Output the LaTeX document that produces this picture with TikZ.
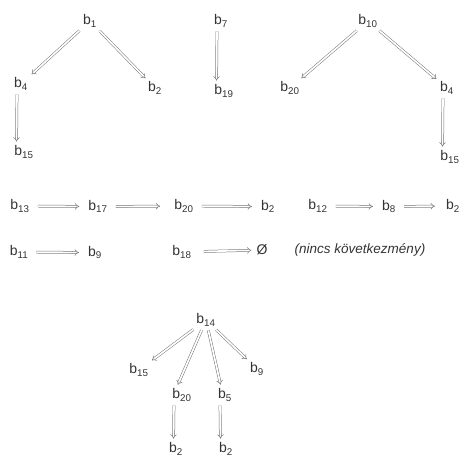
\documentclass[tikz,border=0pt]{standalone}
\usepackage{fontspec}
\setmainfont{Liberation Sans}
\usetikzlibrary{arrows.meta}
\newcommand\bsub[1]{b\textsubscript{#1}}
\tikzset{
  lbl/.style={inner sep=2pt, text=black!80, font=\fontsize{14}{16}\selectfont},
  imp/.style={draw=black!55, double=white, double distance=1.7pt, line width=0.5pt,
    -{Implies}, shorten >=2pt, shorten <=2pt},
  himp/.style={imp, shorten >=7pt, shorten <=6pt}
}
\begin{document}
\begin{tikzpicture}[x=1pt,y=-1pt]
\useasboundingbox (0,0) rectangle (461,458);
% tree 1
\node[lbl] (b1) at (90,21) {\bsub{1}};
\node[lbl] (b4) at (21,84) {\bsub{4}};
\node[lbl] (b2) at (155,88) {\bsub{2}};
\node[lbl] (b15) at (24,152) {\bsub{15}};
\draw[imp] (b1) -- (b4);
\draw[imp] (b1) -- (b2);
\draw[imp] ([xshift=-4pt]b4.south) -- ([xshift=-7.5pt]b15.north);
% tree 2
\node[lbl] (b7) at (221,21) {\bsub{7}};
\node[lbl] (b19) at (224,91) {\bsub{19}};
\draw[imp] ([xshift=-4pt]b7.south) -- ([xshift=-7.5pt]b19.north);
% tree 3
\node[lbl] (b10) at (368,21) {\bsub{10}};
\node[lbl] (b20r) at (290,88) {\bsub{20}};
\node[lbl] (b4r) at (447,88) {\bsub{4}};
\node[lbl] (b15r) at (450,157) {\bsub{15}};
\draw[imp] (b10) -- (b20r);
\draw[imp] (b10) -- (b4r);
\draw[imp] ([xshift=-4pt]b4r.south) -- ([xshift=-7.5pt]b15r.north);
% row 3
\node[lbl] (b13) at (20,206) {\bsub{13}};
\node[lbl] (b17) at (98,206.6) {\bsub{17}};
\node[lbl] (b20) at (184,206) {\bsub{20}};
\node[lbl] (b2a) at (268,206.6) {\bsub{2}};
\node[lbl] (b12) at (318,206) {\bsub{12}};
\node[lbl] (b8) at (389,206.6) {\bsub{8}};
\node[lbl] (b2b) at (453,206) {\bsub{2}};
\draw[himp] (b13) -- (b17);
\draw[himp, shorten >=12pt] (b17) -- (b20);
\draw[himp] (b20) -- (b2a);
\draw[himp] (b12) -- (b8);
\draw[himp, shorten >=9pt] (b8) -- (b2b);
% row 4
\node[lbl] (b11) at (19,252) {\bsub{11}};
\node[lbl] (b9) at (95,252.6) {\bsub{9}};
\node[lbl] (b18) at (182,252) {\bsub{18}};
\node[lbl] (empty) at (262,250) {\O};
\node[lbl, font=\fontsize{13.5}{15}\selectfont\itshape] (note) at (360,250) {(nincs következmény)};
\draw[himp] (b11) -- (b9);
\draw[himp, shorten >=3pt, shorten <=10pt] (b18) -- (empty);
% tree 4
\node[lbl] (b14) at (206,320) {\bsub{14}};
\node[lbl] (b15b) at (139,370) {\bsub{15}};
\node[lbl] (b20b) at (182,395) {\bsub{20}};
\node[lbl] (b5) at (225,395) {\bsub{5}};
\node[lbl] (b9b) at (257,369) {\bsub{9}};
\node[lbl] (b2c) at (176,449) {\bsub{2}};
\node[lbl] (b2d) at (226,449) {\bsub{2}};
\draw[imp] (b14) -- (b15b);
\draw[imp] (b14) -- ([xshift=-5pt]b20b.north);
\draw[imp] (b14) -- ([xshift=-4pt]b5.north);
\draw[imp] (b14) -- (b9b);
\draw[imp] ([xshift=-8pt]b20b.south) -- ([xshift=-2.5pt]b2c.north);
\draw[imp] ([xshift=-5pt]b5.south) -- ([xshift=-5.5pt]b2d.north);
\end{tikzpicture}
\end{document}
